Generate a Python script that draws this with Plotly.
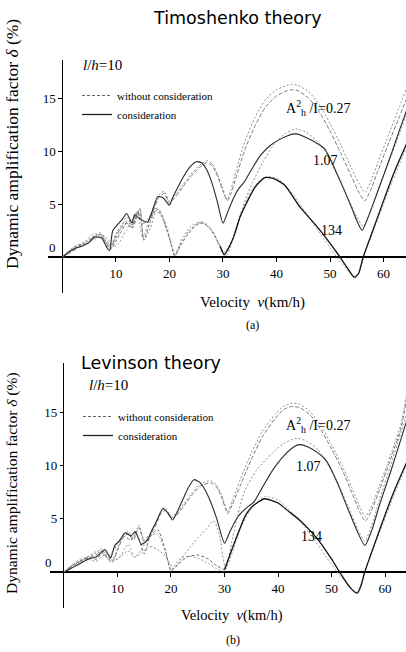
import plotly.graph_objects as go

# ---------------- data: Timoshenko theory (a) ----------------
tim_027_wo_v = [0, 1.5, 3, 4.5, 6, 7, 8, 9, 10, 11, 12, 13, 14, 15, 16, 17, 18, 19, 20, 21, 22.5, 24, 25.5, 27, 28, 29, 30, 30.8, 31.5, 32.5, 34, 36, 38, 40, 42, 43, 44, 46, 48, 50, 52, 54, 55.5, 56.5, 57.5, 59, 61, 63, 64.5]
tim_027_wo_d = [0, 0.5, 1.0, 1.4, 1.9, 2.3, 1.8, 1.0, 2.2, 3.0, 3.4, 3.0, 4.4, 3.4, 3.6, 4.6, 5.8, 6.2, 5.3, 5.8, 6.8, 7.8, 8.6, 9.1, 8.8, 7.8, 6.4, 5.4, 6.4, 8.2, 10.8, 13.2, 14.9, 15.8, 16.2, 16.3, 16.2, 15.6, 14.4, 12.6, 10.6, 8.4, 6.9, 6.1, 7.0, 9.0, 11.6, 14.2, 16.2]
tim_027_wi_v = tim_027_wo_v
tim_027_wi_d = [0, 0.4, 0.9, 1.3, 1.7, 2.1, 1.5, 0.8, 2.0, 2.8, 3.2, 2.8, 4.2, 3.2, 3.4, 4.4, 5.6, 6.0, 5.1, 5.6, 6.6, 7.6, 8.4, 8.9, 8.6, 7.6, 6.2, 5.3, 6.0, 7.6, 10.0, 12.4, 14.2, 15.2, 15.7, 15.8, 15.7, 15.0, 13.7, 11.9, 9.8, 7.6, 6.0, 5.3, 6.2, 8.2, 10.8, 13.3, 15.2]
tim_107_wi_v = [0, 1, 2.3, 3.5, 4.8, 6, 7.3, 8.3, 8.8, 9.4, 10.2, 11.1, 12, 13, 13.5, 14.5, 15.9, 16.7, 17.8, 18.8, 20, 20.6, 22, 23, 24, 25, 26, 27, 28, 29, 30, 31, 32, 33, 34, 35.5, 37, 39, 41, 43, 44, 45, 47, 49, 50, 51, 52.5, 54, 55.2, 56, 57, 58.5, 60, 61.5, 63, 64.5]
tim_107_wi_d = [0, 0.4, 0.8, 1.0, 1.3, 1.9, 1.8, 0.9, 0.6, 2.5, 3.0, 3.5, 4.1, 3.2, 4.0, 3.6, 3.3, 4.2, 5.7, 5.6, 4.9, 5.6, 7.0, 7.9, 8.6, 9.0, 8.9, 8.2, 6.9, 5.1, 3.2, 4.4, 5.6, 6.5, 7.1, 8.4, 9.6, 10.6, 11.2, 11.6, 11.6, 11.4, 10.9, 10.2, 9.3, 8.2, 6.5, 4.7, 3.2, 2.5, 3.6, 5.6, 7.7, 9.8, 12.0, 14.1]
tim_107_wo_v = [0, 1.5, 3, 4.5, 6, 7, 8, 9, 10, 11, 12, 13, 14, 14.5, 15.2, 16.5, 17.5, 18.5, 19.5, 20.3, 21, 22, 23.5, 25, 26, 27, 28, 29, 30, 30.6, 31.3, 32.5, 34, 35.5, 37.5, 39.5, 41.5, 43.5, 45.5, 47.5, 49.5, 51.5, 53.5, 55, 56.2, 57.5, 59, 61, 63, 64.5]
tim_107_wo_d = [0, 0.6, 1.0, 1.5, 2.0, 2.2, 1.6, 1.2, 1.8, 2.8, 3.8, 3.0, 4.2, 4.6, 1.6, 2.8, 4.4, 3.8, 2.6, 1.2, 0.1, 1.2, 2.4, 3.1, 3.3, 3.1, 2.5, 1.5, 0.5, 0.1, 0.8, 2.8, 5.2, 7.0, 9.0, 10.6, 11.6, 12.1, 11.8, 11.0, 9.6, 7.6, 5.4, 3.8, 2.9, 4.2, 6.4, 9.0, 11.7, 13.8]
tim_134_wi_v = [0, 1.5, 3, 4.5, 6, 7.3, 8.3, 9, 10, 11, 12, 13, 14, 14.5, 15.2, 16.3, 17.5, 18.5, 19.5, 20.3, 21, 22, 23.5, 25, 26.3, 27.5, 28.5, 29.5, 30.2, 31, 32, 33.2, 34.5, 36, 37.8, 39.5, 41.5, 44.4, 47.7, 51.3, 53.2, 54.5, 55.3, 56.2, 58, 60, 62, 64.5]
tim_134_wi_d = [0, 0.7, 1.1, 1.2, 1.8, 1.9, 1.1, 0.7, 1.5, 2.4, 3.2, 2.7, 3.9, 4.5, 1.6, 3.2, 4.6, 4.0, 2.6, 1.2, 0.1, 1.0, 2.2, 3.0, 3.2, 2.7, 2.0, 1.0, 0.2, 0.8, 1.9, 3.8, 5.2, 6.6, 7.5, 7.4, 6.8, 4.7, 2.8, 0.4, -1.0, -1.9, -1.6, 0.0, 2.5, 5.3, 8.0, 10.9]
tim_134_wo_v = [0, 2, 4, 6, 8, 10, 12, 14, 15, 16.5, 18, 19.5, 21, 22.5, 24, 26, 28, 30, 31, 32.5, 34, 36, 38.3, 40.5, 43, 46, 49, 51.5, 53.5, 54.7, 55.6, 56.5, 58.5, 61, 64.5]
tim_134_wo_d = [0, 0.9, 1.4, 2.2, 1.9, 1.0, 2.6, 4.2, 1.8, 3.8, 4.5, 2.9, 0.3, 1.9, 2.9, 3.3, 2.4, 0.4, 0.9, 2.6, 4.9, 6.8, 7.6, 7.3, 6.0, 3.8, 1.6, -0.2, -1.4, -2.0, -1.3, 0.4, 3.0, 6.3, 10.6]

# ---------------- data: Levinson theory (b) ----------------
lev_027_wo_v = [0, 1.5, 3, 4.5, 6, 7, 8, 9, 10, 11, 12, 13, 14, 15, 16, 17, 18, 19, 20, 21, 22.5, 24, 25.5, 27.5, 28.5, 29.5, 30.6, 31.5, 33, 35, 37, 39.5, 41, 42.5, 44, 46, 48, 50, 52, 54, 55.3, 56.3, 57.3, 59, 61, 63, 64]
lev_027_wo_d = [0, 0.6, 1.2, 1.4, 1.8, 2.2, 1.5, 1.1, 2.2, 3.4, 3.8, 3.2, 4.4, 3.0, 3.6, 4.4, 5.6, 6.0, 5.3, 5.5, 6.5, 7.5, 8.3, 8.6, 8.2, 7.2, 5.7, 6.8, 8.8, 11.2, 13.2, 14.9, 15.6, 15.9, 15.8, 15.1, 13.8, 12.0, 10.0, 7.7, 6.1, 5.2, 6.0, 8.2, 11.0, 14.0, 16.8]
lev_027_wi_v = lev_027_wo_v
lev_027_wi_d = [0, 0.5, 1.0, 1.3, 1.6, 2.0, 1.3, 0.9, 2.0, 3.2, 3.6, 3.0, 4.2, 2.8, 3.4, 4.2, 5.4, 5.8, 5.1, 5.3, 6.3, 7.3, 8.1, 8.4, 8.0, 7.0, 5.5, 6.4, 8.2, 10.6, 12.7, 14.5, 15.3, 15.6, 15.5, 14.8, 13.4, 11.6, 9.6, 7.2, 5.6, 4.8, 5.6, 7.8, 10.6, 13.6, 16.3]
lev_107_wi_v = [0, 1.2, 2.7, 4.5, 6, 7.7, 8.7, 9.5, 10.5, 11.4, 12.5, 13.3, 14.5, 15.6, 16.5, 17.5, 18.5, 19.5, 20.3, 22, 23.3, 24.3, 25.5, 27, 28.5, 30, 31, 32.5, 34, 35.5, 37, 39, 41, 43, 44, 45.5, 47.5, 49, 51, 53, 55, 56.2, 57.5, 59, 61, 63, 64]
lev_107_wi_d = [0, 0.3, 0.7, 1.2, 1.4, 2.1, 1.3, 2.5, 3.0, 3.7, 3.4, 3.8, 2.6, 3.0, 4.0, 5.0, 6.0, 5.5, 4.9, 6.6, 8.0, 8.7, 8.4, 7.1, 5.1, 2.7, 3.8, 5.2, 6.0, 6.6, 7.9, 9.6, 10.9, 11.8, 12.0, 11.8, 11.2, 10.5, 8.5, 6.0, 3.6, 2.5, 3.9, 6.4, 9.4, 12.6, 14.2]
lev_107_wo_v = [0, 1.5, 3, 4.5, 6, 7.5, 9, 10.5, 12, 13.2, 14.5, 16, 17.5, 19, 20.5, 22, 23.5, 25, 26.5, 28, 29, 30.2, 31.5, 32.5, 33.8, 36, 38.9, 41, 43.5, 45.5, 47.5, 49.5, 51.5, 53.5, 55, 56.2, 57.5, 59, 61, 63, 64]
lev_107_wo_d = [0, 0.4, 0.9, 1.2, 1.0, 1.6, 1.0, 1.4, 2.0, 1.4, 1.8, 2.4, 2.1, 1.5, 0.3, 1.3, 2.3, 3.2, 4.0, 4.8, 3.6, 0.3, 3.2, 5.4, 7.7, 9.6, 11.2, 12.1, 12.6, 12.3, 11.5, 10.0, 8.0, 5.7, 3.9, 2.9, 4.4, 6.9, 10.0, 13.2, 14.8]
lev_134_wi_v = [0, 1.5, 3, 4.5, 6, 7.5, 8.5, 9.5, 11, 12.5, 13.5, 15, 16, 17.5, 19, 20, 21.5, 23, 25, 27, 28.5, 30, 31, 32.5, 34, 35.5, 37.5, 40, 42, 44, 46, 48, 50, 52, 53.5, 54.8, 55.5, 56.2, 58, 60, 62, 64]
lev_134_wi_d = [0, 0.6, 1.0, 1.4, 1.2, 2.0, 1.5, 2.2, 3.4, 3.0, 3.7, 1.7, 3.2, 4.0, 2.0, 0.1, 0.8, 1.4, 1.6, 1.2, 0.6, 0.2, 1.6, 3.6, 5.4, 6.3, 6.9, 6.5, 5.7, 4.9, 3.9, 2.7, 1.2, -0.4, -1.5, -2.0, -1.3, 0.0, 2.6, 5.4, 8.0, 10.3]
lev_134_wo_v = [0, 2, 4, 6, 8, 10, 12, 13.2, 14.5, 16, 17.5, 19, 20, 21.5, 23, 25, 27, 28.5, 30, 31.5, 33, 35, 37.5, 40, 43, 46, 49, 51.5, 53.5, 54.6, 55.4, 56.4, 58.5, 61, 64]
lev_134_wo_d = [0, 0.8, 1.3, 1.9, 1.6, 1.2, 2.6, 1.4, 2.1, 3.4, 3.6, 1.8, 0.2, 1.2, 1.5, 1.3, 0.8, 0.3, 0.1, 1.9, 4.1, 6.0, 7.1, 6.8, 5.4, 3.6, 1.4, -0.3, -1.4, -1.9, -1.2, 0.3, 3.1, 6.4, 10.1]

x_ticks = [10, 20, 30, 40, 50, 60]
y_ticks = [5, 10, 15]

SERIF = "Liberation Serif"
SANS = "DejaVu Sans"
W, H = 406, 652

styles = {
    "wo027": dict(color="#8f8f8f", width=1, dash="2px,2px"),
    "wi027": dict(color="#7a7a7a", width=1, dash="4px,2px"),
    "wo107": dict(color="#8f8f8f", width=1, dash="2px,2px"),
    "wi107": dict(color="#2a2a2a", width=1.1, dash="solid"),
    "wo134": dict(color="#a0a0a0", width=1, dash="2px,2px"),
    "wi134": dict(color="#111111", width=1.3, dash="solid"),
    "wi134early": dict(color="#6a6a6a", width=1, dash="3px,2px"),
}

fig = go.Figure()

def add_curve(v, d, key, xa, ya):
    fig.add_trace(go.Scatter(x=v, y=d, mode="lines", line=dict(shape="spline", smoothing=0.6, **styles[key]),
                             xaxis=xa, yaxis=ya, showlegend=False, hoverinfo="skip"))

def add_panel(xa, ya, curves, v134, d134, split):
    for (v, d, key) in curves:
        add_curve(v, d, key, xa, ya)
    # 134 with consideration: lighter before the first dip, solid black after
    early = [(a, b) for a, b in zip(v134, d134) if a <= split]
    late = [(a, b) for a, b in zip(v134, d134) if a >= split - 0.01 - 1.0]
    add_curve([p[0] for p in early], [p[1] for p in early], "wi134early", xa, ya)
    add_curve([p[0] for p in late], [p[1] for p in late], "wi134", xa, ya)

add_panel("x", "y", [
    (tim_134_wo_v, tim_134_wo_d, "wo134"),
    (tim_107_wo_v, tim_107_wo_d, "wo107"),
    (tim_027_wo_v, tim_027_wo_d, "wo027"),
    (tim_027_wi_v, tim_027_wi_d, "wi027"),
    (tim_107_wi_v, tim_107_wi_d, "wi107"),
], tim_134_wi_v, tim_134_wi_d, 30.2)
add_panel("x2", "y2", [
    (lev_134_wo_v, lev_134_wo_d, "wo134"),
    (lev_107_wo_v, lev_107_wo_d, "wo107"),
    (lev_027_wo_v, lev_027_wo_d, "wo027"),
    (lev_027_wi_v, lev_027_wi_d, "wi027"),
    (lev_107_wi_v, lev_107_wi_d, "wi107"),
], lev_134_wi_v, lev_134_wi_d, 30.0)

# legend entries
for lg, xa, ya in (("legend", "x", "y"), ("legend2", "x2", "y2")):
    fig.add_trace(go.Scatter(x=[None], y=[None], mode="lines", name="without consideration",
                             line=dict(color="#666", width=1, dash="3px,2px"), xaxis=xa, yaxis=ya, legend=lg))
    fig.add_trace(go.Scatter(x=[None], y=[None], mode="lines", name="consideration",
                             line=dict(color="#222", width=1.3), xaxis=xa, yaxis=ya, legend=lg))

def py(p):
    return (H - p) / H

def px(p):
    return p / W

# panel geometry (pixels)
A = dict(left=48, top=60, bottom=293, xr=[-2.7, 64.2], yr=[-3.4, 18.6])
B = dict(left=50, top=363, bottom=608, xr=[-2.6, 63.9], yr=[-3.4, 19.7])

def axes(P):
    ydom = [py(P["bottom"]), py(P["top"])]
    xdom = [px(P["left"]), 1.0]
    zero_y = ydom[0] + (0 - P["yr"][0]) / (P["yr"][1] - P["yr"][0]) * (ydom[1] - ydom[0])
    zero_x = xdom[0] + (0 - P["xr"][0]) / (P["xr"][1] - P["xr"][0]) * (xdom[1] - xdom[0])
    xa = dict(domain=xdom, range=P["xr"], showgrid=False, showline=False, zeroline=True,
              zerolinecolor="black", zerolinewidth=1.2, tickvals=x_ticks, ticks="outside",
              ticklen=4, tickcolor="black", anchor="free", position=zero_y,
              tickfont=dict(family=SERIF, size=13, color="black"), fixedrange=True)
    ya = dict(domain=ydom, range=P["yr"], showgrid=False, showline=False, zeroline=True,
              zerolinecolor="black", zerolinewidth=2, tickvals=y_ticks, ticks="outside",
              ticklen=4, tickcolor="black", anchor="free", position=zero_x,
              tickfont=dict(family=SERIF, size=13, color="black"), fixedrange=True)
    return xa, ya

xa1, ya1 = axes(A)
xa2, ya2 = axes(B)

def ann(text, x, y, size, family=SERIF, angle=0, xanchor="center"):
    return dict(text=text, x=px(x), y=py(y), xref="paper", yref="paper", showarrow=False,
                font=dict(family=family, size=size, color="black"), textangle=angle,
                xanchor=xanchor, yanchor="middle")

def dann(text, x, y, xa, ya, size=14):
    return dict(text=text, x=x, y=y, xref=xa, yref=ya, showarrow=False,
                font=dict(family=SERIF, size=size, color="black"), xanchor="center", yanchor="middle")

annotations = [
    ann("Timoshenko theory", 237, 18, 17.5, SANS),
    ann("Levinson theory", 151, 363, 17.5, SANS),
    ann("Dynamic amplification factor <i>δ</i> (%)", 12, 144, 17.5, angle=-90),
    ann("Dynamic amplification factor <i>δ</i> (%)", 12, 483, 15.5, angle=-90),
    ann("<i>l</i>/<i>h</i>=10", 102, 65, 15),
    ann("<i>l</i>/<i>h</i>=10", 108, 385, 15),
    ann("Velocity  <i>v</i>(km/h)", 252, 302, 15),
    ann("Velocity  <i>v</i>(km/h)", 232, 615, 14.5),
    ann("(a)", 253, 325, 12),
    ann("(b)", 233, 640, 12),
    ann("0", 52, 247, 13),
    ann("0", 48, 562, 13),
    dann("A<sup>2</sup><sub>h</sub> /I=0.27", 47.7, 14.1, "x", "y"),
    dann("1.07", 49.1, 9.15, "x", "y"),
    dann("134", 50.2, 2.5, "x", "y"),
    dann("A<sup>2</sup><sub>h</sub> /I=0.27", 47.5, 13.9, "x2", "y2"),
    dann("1.07", 45.6, 9.9, "x2", "y2"),
    dann("134", 46.2, 3.3, "x2", "y2"),
]

leg_common = dict(bgcolor="rgba(0,0,0,0)", borderwidth=0, font=dict(family=SERIF, size=11, color="black"),
                  xanchor="left", yanchor="top", itemclick=False, itemdoubleclick=False)

fig.update_layout(
    width=W, height=H, margin=dict(l=0, r=0, t=0, b=0),
    paper_bgcolor="white", plot_bgcolor="white",
    xaxis=xa1, yaxis=ya1, xaxis2=xa2, yaxis2=ya2,
    annotations=annotations,
    legend=dict(x=px(77), y=py(81), **leg_common),
    legend2=dict(x=px(78), y=py(402), **leg_common),
)

fig.write_html("out.html")
